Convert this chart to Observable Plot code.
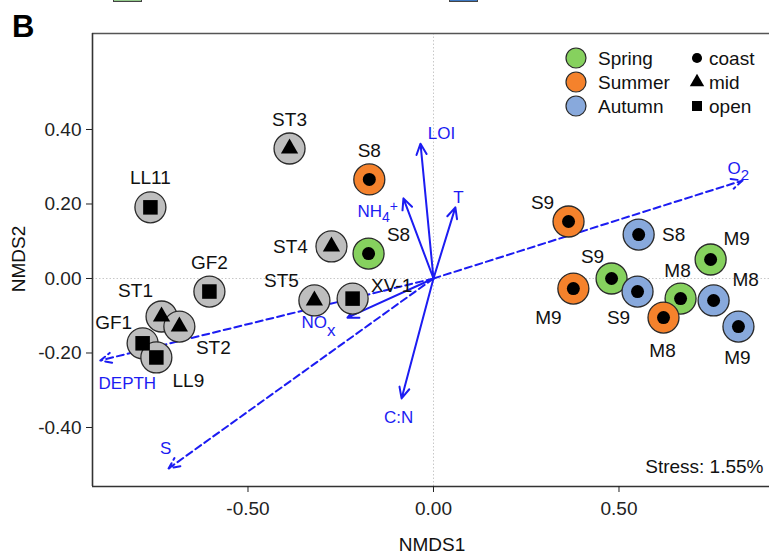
<!DOCTYPE html>
<html>
<head>
<meta charset="utf-8">
<script src="https://cdn.jsdelivr.net/npm/d3@7"></script>
<script src="https://cdn.jsdelivr.net/npm/@observablehq/plot@0.6"></script>
<style>
  html, body { margin: 0; padding: 0; background: #fff; }
  #wrap { position: relative; width: 769px; height: 554px; overflow: hidden; }
  .key { position: absolute; top: -12px; height: 14px; border: 1px solid #444; box-sizing: border-box; }
</style>
</head>
<body>
<div id="wrap"></div>
<script>
// ---- data ----
const stations = ["ST3","LL11","ST4","GF2","ST5","XV-1","ST1","ST2","GF1","LL9",
                  "S8","S9","M9","M8",
                  "S8","S9","M9","M8",
                  "S8","S9","M8","M9"];
const nmds1 = [-0.388,-0.763,-0.275,-0.604,-0.321,-0.218,-0.733,-0.685,-0.784,-0.747,
               -0.175, 0.480, 0.747, 0.666,
               -0.173, 0.364, 0.377, 0.620,
                0.553, 0.550, 0.755, 0.822];
const nmds2 = [ 0.349, 0.191, 0.086,-0.035,-0.059,-0.054,-0.102,-0.129,-0.174,-0.212,
                0.067, 0.000, 0.051,-0.054,
                0.266, 0.153,-0.027,-0.105,
                0.118,-0.035,-0.059,-0.129];
const season = ["none","none","none","none","none","none","none","none","none","none",
                "Spring","Spring","Spring","Spring",
                "Summer","Summer","Summer","Summer",
                "Autumn","Autumn","Autumn","Autumn"];
const zone = ["mid","open","mid","open","mid","open","mid","mid","open","open",
              "coast","coast","coast","coast","coast","coast","coast","coast",
              "coast","coast","coast","coast"];
const seasons = ["Spring","Summer","Autumn"];
const zones = ["coast","mid","open"];

const envVars = ["LOI","T","NH4+","C:N","NOx","O2","DEPTH","S"];
const envX = [-0.035, 0.059,-0.081,-0.086,-0.232, 0.833,-0.898,-0.714];
const envY = [ 0.362, 0.191, 0.215,-0.322,-0.105, 0.263,-0.220,-0.510];
const envKind = ["solid","solid","solid","solid","solid","dashed","dashed","dashed"];

const xTicks = [-0.5, 0, 0.5];
const yTicks = [-0.4, -0.2, 0, 0.2, 0.4];
const stressText = "Stress: 1.55%";

// ---- style ----
const seasonColor = {none:"#bebebe", Spring:"#86d15e", Summer:"#f5822c", Autumn:"#88a9dc"};
const blue = "#1c1cf2";
const labelAnchor = ["top","top","left","top","topleft2","upright","topleft3","botright","topleft4","botright2",
                     "topright","topleft5","topright2","top2",
                     "top","topleft","botleft","bottom",
                     "right","botleft2","topright3","bottom2"];
const anchorOffset = {
  top:[0,-29], top2:[-3,-28], left:[-41,0], right:[35,0], bottom:[-1,33], bottom2:[-1,31],
  topleft:[-26,-19], topleft2:[-33,-20], topleft3:[-26,-26], topleft4:[-29,-20], topleft5:[-19,-22],
  topright:[30,-19], topright2:[26,-21], topright3:[32,-21], upright:[39,-13],
  botright:[34,21], botright2:[32,23], botleft:[-25,29], botleft2:[-19,26]
};
const envLabelStyle = {
  "LOI":[21,-10,"middle"], "T":[3,-10,"middle"], "NH4+":[-46,13,"start"], "C:N":[-3,19,"middle"],
  "NOx":[-46,5,"start"], "O2":[-15,-12,"start"], "DEPTH":[27,23,"middle"], "S":[-3,-20,"middle"]
};
const rich = {
  "NH4+": 'NH<tspan dy="5" font-size="14">4</tspan><tspan dy="-11" font-size="14">+</tspan>',
  "NOx": 'NO<tspan dy="8" font-size="17">x</tspan>',
  "O2": 'O<tspan dy="6" font-size="15">2</tspan>'
};

const xDomain = [-0.9191, 0.9057];
const yDomain = [-0.5584, 0.6577];

const pts = stations.map((s, i) => ({name: s, x: nmds1[i], y: nmds2[i], season: season[i], zone: zone[i], anchor: labelAnchor[i]}));
const env = envVars.map((v, i) => ({name: v, x: envX[i], y: envY[i], kind: envKind[i]}));

const marks = [
  Plot.ruleX([0], {stroke: "#c8c8c8", strokeDasharray: "1.5,2", strokeWidth: 1}),
  Plot.ruleY([0], {stroke: "#c8c8c8", strokeDasharray: "1.5,2", strokeWidth: 1}),
  Plot.arrow(env.filter(d => d.kind === "solid"), {x1: d => 0, y1: d => 0, x2: "x", y2: "y", stroke: blue, strokeWidth: 2, headLength: 9, headAngle: 50}),
  Plot.arrow(env.filter(d => d.kind === "dashed"), {x1: d => 0, y1: d => 0, x2: "x", y2: "y", stroke: blue, strokeWidth: 2, strokeDasharray: "7,4", headLength: 9, headAngle: 50}),
  Plot.dot(pts, {x: "x", y: "y", r: 15.5, fill: d => seasonColor[d.season], stroke: "#2a2a2a", strokeWidth: 1.3}),
  Plot.dot(pts.filter(d => d.zone === "coast"), {x: "x", y: "y", r: 6.5, fill: "black", symbol: "circle"}),
  Plot.dot(pts.filter(d => d.zone === "mid"), {x: "x", y: "y", r: 6.4, fill: "black", symbol: "triangle"}),
  Plot.dot(pts.filter(d => d.zone === "open"), {x: "x", y: "y", r: 8.2, fill: "black", symbol: "square"}),
];
for (const [a, [dx, dy]] of Object.entries(anchorOffset)) {
  marks.push(Plot.text(pts.filter(d => d.anchor === a), {x: "x", y: "y", text: "name", dx, dy, fontSize: 19, fill: "#111"}));
}
for (const e of env) {
  const [dx, dy, ta] = envLabelStyle[e.name];
  marks.push(Plot.text([e], {x: "x", y: "y", text: "name", dx, dy, textAnchor: ta, fontSize: 17, fill: blue}));
}
marks.push(
  Plot.text([stressText], {frameAnchor: "bottom-right", text: d => d, dx: -6, dy: -14, fontSize: 19, fill: "#111", textAnchor: "end"}),
  Plot.ruleY([yDomain[1]], {stroke: "#555", strokeWidth: 1.6}),
  Plot.ruleY([yDomain[0]], {stroke: "#333", strokeWidth: 1.6}),
  Plot.ruleX([xDomain[0]], {stroke: "#333", strokeWidth: 1.6}),
  Plot.axisX({ticks: xTicks, tickFormat: d => d.toFixed(2), tickSize: 6, tickPadding: 9, fontSize: 19, color: "#222", label: null}),
  Plot.axisY({ticks: yTicks, tickFormat: d => d.toFixed(2), tickSize: 6, tickPadding: 5, fontSize: 19, color: "#222", label: null})
);

const chart = Plot.plot({
  width: 769, height: 554,
  marginLeft: 92, marginRight: 0, marginTop: 33, marginBottom: 68,
  x: {domain: xDomain},
  y: {domain: yDomain},
  style: {fontFamily: "'Liberation Sans', Arial, Helvetica, sans-serif", background: "#fff", overflow: "visible"},
  marks
});

// rich labels (sub/superscripts)
d3.select(chart).selectAll("text").each(function() {
  const t = this.textContent;
  if (rich[t] && this.childElementCount === 0) this.innerHTML = rich[t];
});

const svg = d3.select(chart);
const font = "'Liberation Sans', Arial, Helvetica, sans-serif";
// axis titles
svg.append("text").attr("x", 432).attr("y", 551).attr("text-anchor", "middle")
  .attr("font-size", 19).attr("font-family", font).attr("fill", "#111").text("NMDS1");
svg.append("text").attr("transform", "translate(25,259) rotate(-90)").attr("text-anchor", "middle")
  .attr("font-size", 19).attr("font-family", font).attr("fill", "#111").text("NMDS2");
// panel tag
svg.append("text").attr("x", 12).attr("y", 37).attr("font-size", 31).attr("font-weight", "bold")
  .attr("text-anchor", "start").attr("font-family", font).attr("fill", "#000").text("B");
// legend
const lg = svg.append("g").attr("font-family", font).attr("font-size", 19).attr("fill", "#111").attr("text-anchor", "start");
seasons.forEach((s, i) => {
  const cy = 58 + i * 24;
  lg.append("circle").attr("cx", 576).attr("cy", cy).attr("r", 10)
    .attr("fill", seasonColor[s]).attr("stroke", "#2a2a2a").attr("stroke-width", 1.2);
  lg.append("text").attr("x", 598).attr("y", cy + 7).attr("text-anchor", "start").text(s);
});
const sym = {coast: d3.symbolCircle, mid: d3.symbolTriangle, open: d3.symbolSquare};
const symSize = {coast: 80, mid: 90, open: 100};
zones.forEach((z, i) => {
  const cy = 58 + i * 24;
  lg.append("path").attr("d", d3.symbol(sym[z], symSize[z])()).attr("transform", `translate(697,${cy})`).attr("fill", "#000");
  lg.append("text").attr("x", 709).attr("y", cy + 7).attr("text-anchor", "start").text(z);
});

const wrap = document.getElementById("wrap");
wrap.appendChild(chart);
// cut-off keys of the panel above
const k1 = document.createElement("div"); k1.className = "key";
k1.style.cssText = "left:113px;width:29px;background:#93c98b;";
const k2 = document.createElement("div"); k2.className = "key";
k2.style.cssText = "left:449px;width:29px;background:#3d78c0;";
wrap.appendChild(k1); wrap.appendChild(k2);
</script>
</body>
</html>
